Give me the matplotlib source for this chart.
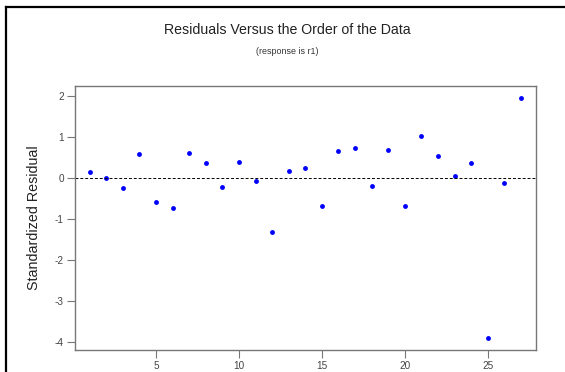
import matplotlib
matplotlib.use('Agg')
import matplotlib.pyplot as plt
from matplotlib.lines import Line2D

plt.rcParams['font.family'] = ['Liberation Sans', 'DejaVu Sans']
plt.rcParams['axes.unicode_minus'] = False

order = list(range(1, 28))
std_resid = [0.15, 0.00, -0.25, 0.58, -0.58, -0.72, 0.62, 0.36, -0.22, 0.40,
             -0.07, -1.31, 0.17, 0.24, -0.68, 0.67, 0.73, -0.19, 0.68, -0.68,
             1.04, 0.54, 0.06, 0.36, -3.89, -0.11, 1.96]
x_ticks = [5, 10, 15, 20, 25]
y_ticks = [-4, -3, -2, -1, 0, 1, 2]

fig = plt.figure(figsize=(5.65, 3.72), dpi=100)
ax = fig.add_axes([0.1327, 0.0591, 0.8153, 0.7097])

ax.plot(order, std_resid, 'o', color='#0000ff', ms=3.5, mec='none')
ax.axhline(0, color='black', lw=0.7, ls=(0, (3, 2)))

ax.set_xlim(0.12, 27.88)
ax.set_ylim(-4.19, 2.25)
ax.set_xticks(x_ticks)
ax.set_yticks(y_ticks)
ax.tick_params(axis='both', direction='out', length=6, width=0.8,
               color='#777777', labelcolor='#444444', labelsize=7.2, pad=2)
for s in ax.spines.values():
    s.set_color('#777777')
    s.set_linewidth(1.0)

ax.set_ylabel('Standardized Residual', fontsize=10.3, color='#222222', labelpad=10)

fig.text(0.508, 0.919, 'Residuals Versus the Order of the Data',
         ha='center', va='center', fontsize=10.2, color='#222222')
fig.text(0.508, 0.862, '(response is r1)', ha='center', va='center',
         fontsize=6.4, color='#333333')

# black frame on top and left of the image
fig.add_artist(Line2D([0.0115, 1.0], [0.981, 0.981], transform=fig.transFigure,
                      color='black', lw=1.6))
fig.add_artist(Line2D([0.0115, 0.0115], [0.0, 0.981], transform=fig.transFigure,
                      color='black', lw=1.6))

fig.savefig('out.png', dpi=100)
